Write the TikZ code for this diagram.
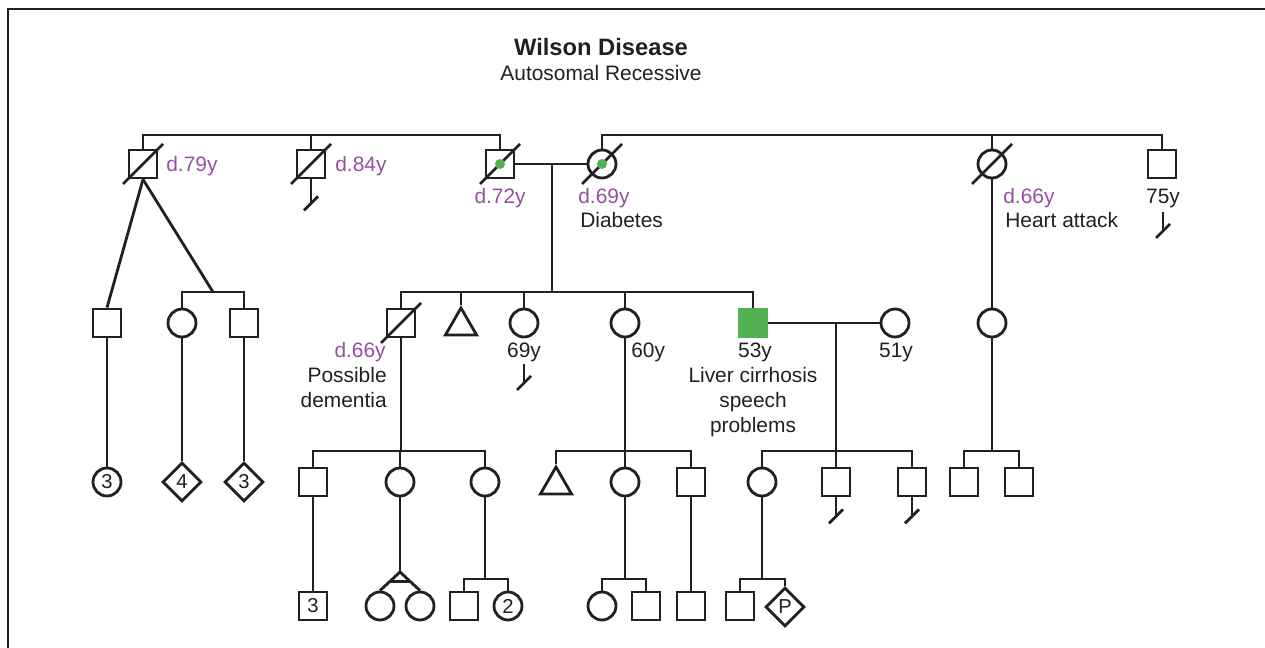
\documentclass[tikz,border=0pt]{standalone}
\usepackage{fontspec}
\setmainfont{Liberation Sans}
\usetikzlibrary{shapes.geometric,calc}
\definecolor{ink}{RGB}{35,31,32}
\definecolor{purp}{RGB}{150,78,160}
\definecolor{grn}{RGB}{82,178,82}
\newcommand\deadslash[1]{\draw[ln] ([shift={(-20,20)}]#1.center) -- ([shift={(20,-20)}]#1.center);}
\newcommand\tipbar[1]{\draw[ln] ([shift={(-7,6)}]#1) -- ([shift={(7,-8)}]#1);}
\begin{document}
\begin{tikzpicture}[x=0.02cm,y=-0.02cm,
  ln/.style={draw=ink,line width=1.6pt},
  sq/.style={ln,rectangle,minimum size=0.56cm,inner sep=0pt,font=\fontsize{11.5}{13}\selectfont,text=ink},
  ci/.style={ln,circle,minimum size=0.56cm,inner sep=0pt,font=\fontsize{11.5}{13}\selectfont,text=ink},
  dm/.style={ln,diamond,minimum size=0.78cm,inner sep=0pt,font=\fontsize{11.5}{13}\selectfont,text=ink},
  tri/.style={ln,regular polygon,regular polygon sides=3,minimum size=0.72cm,inner sep=0pt},
  lbl/.style={font=\fontsize{11.9}{14}\selectfont,text=ink,inner sep=0pt},
  plbl/.style={lbl,text=purp}]
\useasboundingbox (0,0) rectangle (1265,648);
% frame
\draw[draw=ink,line width=1.7pt] (8,650) -- (8,9) -- (1267,9);
% title
\node[font=\bfseries\fontsize{13.5}{16}\selectfont,text=ink,inner sep=0pt,anchor=base] (title) at (601,56) {Wilson Disease};
\node[lbl,anchor=base] (sub) at (601,81) {Autosomal Recessive};
% helper levels
\coordinate (s1) at (0,135);
\coordinate (s2) at (0,292);
\coordinate (s4) at (0,451);
\coordinate (s5) at (0,579);
% Generation I
\node[sq] (g1a) at (143,164) {};
\node[sq] (g1b) at (311,164) {};
\node[sq] (g1c) at (500,164) {};
\node[ci] (g1d) at (602,164) {};
\node[ci] (g1e) at (992,164) {};
\node[sq] (g1f) at (1162,164) {};
\deadslash{g1a}\deadslash{g1b}\deadslash{g1c}\deadslash{g1d}\deadslash{g1e}
\fill[grn] (g1c.center) circle[radius=0.1cm];
\fill[grn] (g1d.center) circle[radius=0.1cm];
\draw[ln] (g1a.north) |- (g1c.north |- s1) -- (g1c.north);
\draw[ln] (g1b.north) -- (g1b.north |- s1);
\draw[ln] (g1d.north) |- (g1f.north |- s1) -- (g1f.north);
\draw[ln] (g1e.north) -- (g1e.north |- s1);
\draw[ln] (g1c.east) -- (g1d.west);
\coordinate (m1) at (552,164);
\draw[ln] (m1) -- (m1 |- s2);
% d.84y no offspring
\draw[ln] (g1b.south) -- ++(0,25) coordinate (e1b);
\tipbar{e1b}
% Gen I labels
\node[plbl,anchor=base west] (l1a) at (166,172) {d.79y};
\node[plbl,anchor=base west] (l1b) at (335,172) {d.84y};
\node[plbl,anchor=base east] (l1c) at (526,204) {d.72y};
\node[plbl,anchor=base west] (l1d) at (578,204) {d.69y};
\node[lbl,anchor=base west] (l1d2) at (580,228) {Diabetes};
\node[plbl,anchor=base west] (l1e) at (1003,204) {d.66y};
\node[lbl,anchor=base west] (l1e2) at (1005,228) {Heart attack};
\node[lbl,anchor=base] (l1f) at (1163,204) {75y};
\coordinate (t75) at (1163,212);
\draw[ln] (t75) -- ++(0,20) coordinate (e75);
\tipbar{e75}
% Generation II
\node[sq] (g2h) at (107,323) {};
\node[ci] (g2i) at (182,323) {};
\node[sq] (g2j) at (244,323) {};
\node[sq] (g2a) at (401,323) {};
\node[tri] (g2b) at (461,326) {};
\node[ci] (g2c) at (524,323) {};
\node[ci] (g2d) at (625,323) {};
\node[sq,fill=grn,draw=grn] (g2e) at (753,323) {};
\node[ci] (g2f) at (895,323) {};
\node[ci] (g2g) at (992,323) {};
\deadslash{g2a}
\draw[ln] (g2a.north) |- (g2e.north |- s2) -- (g2e.north);
\draw[ln] (g2b.corner 1) -- (g2b.corner 1 |- s2);
\draw[ln] (g2c.north) -- (g2c.north |- s2);
\draw[ln] (g2d.north) -- (g2d.north |- s2);
\coordinate (j1) at (213,292);
\draw[ln] (g1a.south) -- (g2h.north);
\draw[ln] (g1a.south) -- (j1);
\draw[ln] (g2i.north) |- (g2j.north |- s2) -- (g2j.north);
\draw[ln] (g1e.south) -- (g2g.north);
\draw[ln] (g2e.east) -- (g2f.west);
\coordinate (m2) at (836,323);
% Gen II labels
\node[plbl,anchor=base east] (l2a) at (386,358) {d.66y};
\node[lbl,anchor=base east] (l2a2) at (387,383) {Possible};
\node[lbl,anchor=base east] (l2a3) at (387,408) {dementia};
\node[lbl,anchor=base] (l2c) at (524,358) {69y};
\coordinate (t69) at (524,364);
\draw[ln] (t69) -- ++(0,20) coordinate (e69);
\tipbar{e69}
\node[lbl,anchor=base west] (l2d) at (631,358) {60y};
\node[lbl,anchor=base] (l2e) at (755,358) {53y};
\node[lbl,anchor=base] (l2e2) at (753,383) {Liver cirrhosis};
\node[lbl,anchor=base] (l2e3) at (753,408) {speech};
\node[lbl,anchor=base] (l2e4) at (753,433) {problems};
\node[lbl,anchor=base] (l2f) at (896,358) {51y};
% Generation III
\node[ci] (g3a) at (107,482) {3};
\node[dm] (g3b) at (182,482) {4};
\node[dm] (g3c) at (244,482) {3};
\node[sq] (g3d) at (313,482) {};
\node[ci] (g3e) at (400,482) {};
\node[ci] (g3f) at (485,482) {};
\node[tri] (g3g) at (556,485) {};
\node[ci] (g3h) at (625,482) {};
\node[sq] (g3i) at (691,482) {};
\node[ci] (g3j) at (762,482) {};
\node[sq] (g3k) at (836,482) {};
\node[sq] (g3l) at (912,482) {};
\node[sq] (g3m) at (964,482) {};
\node[sq] (g3n) at (1019,482) {};
\draw[ln] (g2h.south) -- (g3a.north);
\draw[ln] (g2i.south) -- (g3b.north);
\draw[ln] (g2j.south) -- (g3c.north);
\draw[ln] (g2a.south) -- (g2a.south |- s4);
\draw[ln] (g3d.north) |- (g3f.north |- s4) -- (g3f.north);
\draw[ln] (g3e.north) -- (g3e.north |- s4);
\draw[ln] (g2d.south) -- (g3h.north);
\draw[ln] (g3g.corner 1) |- (g3i.north |- s4) -- (g3i.north);
\draw[ln] (m2) -- (g3k.north);
\draw[ln] (g3j.north) |- (g3l.north |- s4) -- (g3l.north);
\draw[ln] (g2g.south) -- (g2g.south |- s4);
\draw[ln] (g3m.north) |- (g3n.north |- s4) -- (g3n.north);
\draw[ln] (g3k.south) -- ++(0,20) coordinate (e3k);
\tipbar{e3k}
\draw[ln] (g3l.south) -- ++(0,20) coordinate (e3l);
\tipbar{e3l}
% Generation IV
\node[sq] (g4a) at (313,606) {3};
\node[ci] (g4b) at (380,606) {};
\node[ci] (g4c) at (420,606) {};
\node[sq] (g4d) at (464,606) {};
\node[ci] (g4e) at (508,606) {2};
\node[ci] (g4f) at (602,606) {};
\node[sq] (g4g) at (646,606) {};
\node[sq] (g4h) at (691,606) {};
\node[sq] (g4i) at (740,606) {};
\node[dm] (g4j) at (785,607) {P};
\draw[ln] (g3d.south) -- (g4a.north);
\coordinate (tw) at (400,572);
\draw[ln] (g3e.south) -- (tw);
\draw[ln] (g4b.north) -- (tw) -- (g4c.north);
\draw[ln] ($(tw)!0.5!(g4b.north)$) -- ($(tw)!0.5!(g4c.north)$);
\draw[ln] (g3f.south) -- (g3f.south |- s5);
\draw[ln] (g4d.north) |- (g4e.north |- s5) -- (g4e.north);
\draw[ln] (g3h.south) -- (g3h.south |- s5);
\draw[ln] (g4f.north) |- (g4g.north |- s5) -- (g4g.north);
\draw[ln] (g3i.south) -- (g4h.north);
\draw[ln] (g3j.south) -- (g3j.south |- s5);
\draw[ln] (g4i.north) |- (g4j.north |- s5) -- (g4j.north);
\end{tikzpicture}
\end{document}
